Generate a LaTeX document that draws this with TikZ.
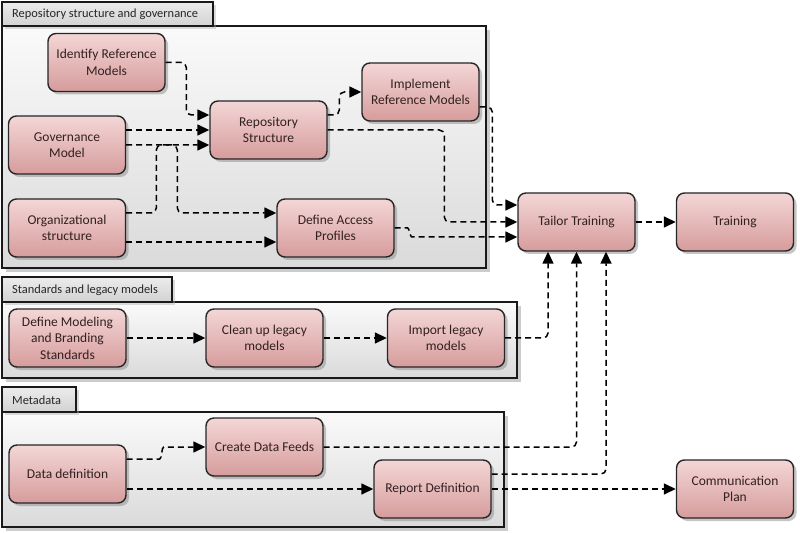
\documentclass[tikz,border=0pt]{standalone}
\usepackage{fontspec}
\setmainfont{Carlito}
\usetikzlibrary{shadows,arrows.meta,calc}
\definecolor{nodetop}{RGB}{244,214,214}
\definecolor{nodebot}{RGB}{214,156,156}
\definecolor{nodetext}{RGB}{50,32,32}
\definecolor{contop}{RGB}{250,250,250}
\definecolor{conbot}{RGB}{218,218,218}
\definecolor{tabtop}{RGB}{236,236,236}
\definecolor{tabbot}{RGB}{210,210,210}
\begin{document}
\begin{tikzpicture}[x=1pt,y=-1pt,
  box/.style={draw=black!85, line width=1.4pt, rounded corners=8pt,
    minimum width=117pt, minimum height=58pt, inner sep=1pt,
    top color=nodetop, bottom color=nodebot, align=center,
    text=nodetext, font=\fontsize{13.5}{16.5}\selectfont,
    drop shadow={shadow xshift=3pt, shadow yshift=-3pt, fill=black!45, opacity=0.5}},
  container/.style={draw=black!90, line width=1.2pt,
    top color=contop, bottom color=conbot,
    drop shadow={shadow xshift=4pt, shadow yshift=-4pt, fill=black!40, opacity=0.5}},
  tabbox/.style={draw=black!90, line width=1.2pt,
    top color=tabtop, bottom color=tabbot,
    drop shadow={shadow xshift=3pt, shadow yshift=-3pt, fill=black!35, opacity=0.4}},
  tablabel/.style={anchor=west, inner sep=0pt, text=black!85, font=\fontsize{12.4}{14}\selectfont},
  conn/.style={draw=black, line width=1.5pt, dash pattern=on 6pt off 4pt,
    rounded corners=5pt, -{Triangle[length=12pt,width=11pt]}},
]
\useasboundingbox (0,0) rectangle (800,534);

% containers
\path[container] (2,26) rectangle (486,268);
\path[tabbox] (2,2) rectangle (213,26);
\node[tablabel] (t1) at (12,14) {Repository structure and governance};

\path[container] (2,302) rectangle (517,378);
\path[tabbox] (2,277) rectangle (172,302);
\node[tablabel] (t2) at (12,290) {Standards and legacy models};

\path[container] (2,412) rectangle (504,527);
\path[tabbox] (2,387) rectangle (76,412);
\node[tablabel] (t3) at (12,400) {Metadata};

% nodes
\node[box] (idr) at (106.5,62.5) {Identify Reference\\Models};
\node[box] (gov) at (67,145) {Governance\\Model};
\node[box] (org) at (67,228) {Organizational\\structure};
\node[box] (rep) at (268.5,130) {Repository\\Structure};
\node[box] (dap) at (335.5,228) {Define Access\\Profiles};
\node[box] (irm) at (420.5,92) {Implement\\Reference Models};
\node[box] (tt) at (576.5,222) {Tailor Training};
\node[box] (tr) at (735,222) {Training};
\node[box] (dms) at (67.5,338) {Define Modeling\\and Branding\\Standards};
\node[box] (clu) at (264.5,338) {Clean up legacy\\models};
\node[box] (ilm) at (446,338) {Import legacy\\models};
\node[box] (dd) at (67.5,474) {Data definition};
\node[box] (cdf) at (264.5,447) {Create Data Feeds};
\node[box] (rd) at (432.5,489) {Report Definition};
\node[box] (cp) at (735,489) {Communication\\Plan};

% connectors
\draw[conn] (idr.east) -| ([xshift=-23pt,yshift=15pt]rep.west) -- ([yshift=15pt]rep.west);
\draw[conn] ([yshift=15pt]gov.east) -- (rep.west);
\draw[conn] (gov.east) -| ([xshift=-99pt,yshift=15pt]dap.west) -- ([yshift=15pt]dap.west);
\draw[conn] ([yshift=15pt]org.east) -| ([xshift=-53pt,yshift=-15pt]rep.west) -- ([yshift=-15pt]rep.west);
\draw[conn] ([yshift=-14pt]org.east) -- ([yshift=-14pt]dap.west);
\draw[conn] ([yshift=15pt]rep.east) -| ([xshift=-22pt]irm.west) -- (irm.west);
\draw[conn] (rep.east) -| ([xshift=-73pt]tt.west) -- (tt.west);
\draw[conn] ([yshift=-15pt]irm.east) -| ([xshift=-25pt,yshift=17pt]tt.west) -- ([yshift=17pt]tt.west);
\draw[conn] (dap.east) -- ++(8,0) to[out=0,in=180] ++(14,9) -- ([yshift=-15pt]tt.west);
\draw[conn] (tt.east) -- (tr.west);
\draw[conn] (dms.east) -- (clu.west);
\draw[conn] (clu.east) -- (ilm.west);
\draw[conn] (ilm.east) -| ([xshift=-28.5pt]tt.south);
\draw[conn] (cdf.east) -| (tt.south);
\draw[conn] ([yshift=15pt]rd.east) -| ([xshift=29.5pt]tt.south);
\draw[conn] (rd.east) -- (cp.west);
\draw[conn] ([yshift=15pt]dd.east) -- ++(28,0) to[out=0,in=180] ++(14,-12) -- (cdf.west);
\draw[conn] ([yshift=-15pt]dd.east) -- (rd.west);
\end{tikzpicture}
\end{document}
